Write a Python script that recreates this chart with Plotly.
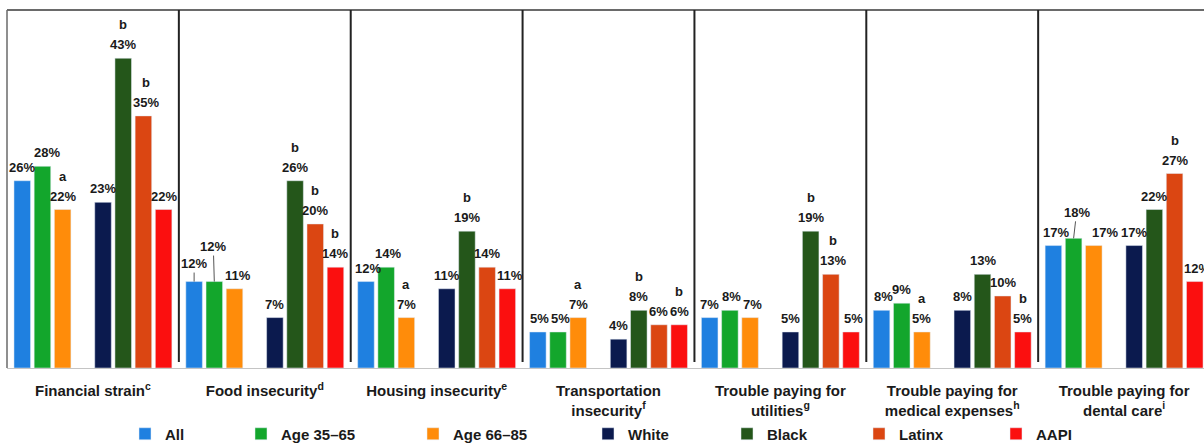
import plotly.graph_objects as go

# --- data -------------------------------------------------------------------
measures = [
    "Financial strain",
    "Food insecurity",
    "Housing insecurity",
    "Transportation insecurity",
    "Trouble paying for utilities",
    "Trouble paying for medical expenses",
    "Trouble paying for dental care",
]
measure_labels = [
    "Financial strain<sup>c</sup>",
    "Food insecurity<sup>d</sup>",
    "Housing insecurity<sup>e</sup>",
    "Transportation<br>insecurity<sup>f</sup>",
    "Trouble paying for<br>utilities<sup>g</sup>",
    "Trouble paying for<br>medical expenses<sup>h</sup>",
    "Trouble paying for<br>dental care<sup>i</sup>",
]
series_names = ["All", "Age 35\u201365", "Age 66\u201385", "White", "Black", "Latinx", "AAPI"]

all_adults = [26, 12, 12, 5, 7, 8, 17]
age_35_65 = [28, 12, 14, 5, 8, 9, 18]
age_66_85 = [22, 11, 7, 7, 7, 5, 17]
white = [23, 7, 11, 4, 5, 8, 17]
black = [43, 26, 19, 8, 19, 13, 22]
latinx = [35, 20, 14, 6, 13, 10, 27]
aapi = [22, 14, 11, 6, 5, 5, 12]

# significance markers shown above the percentages
sig_all = ["", "", "", "", "", "", ""]
sig_age_35_65 = ["", "", "", "", "", "", ""]
sig_age_66_85 = ["a", "", "a", "a", "", "a", ""]
sig_white = ["", "", "", "", "", "", ""]
sig_black = ["b", "b", "b", "b", "b", "", ""]
sig_latinx = ["b", "b", "", "", "b", "", "b"]
sig_aapi = ["", "b", "", "b", "", "b", ""]

series_values = [all_adults, age_35_65, age_66_85, white, black, latinx, aapi]
series_sig = [sig_all, sig_age_35_65, sig_age_66_85, sig_white, sig_black, sig_latinx, sig_aapi]

# --- style ------------------------------------------------------------------
series_colors = ["#1f80e0", "#13a62c", "#ff8c0a", "#0b1a4e", "#24561a", "#db4612", "#fb0f0f"]
FONT = "Liberation Sans, Arial, sans-serif"
TEXT_COLOR = "#1a1a1a"
VALUE_SIZE = 13
VALUE_SHIFT = 4
LETTER_GAP = 20

# eight slots per group; slot 3 stays empty to split age and race groups
slots = [0, 1, 2, 4, 5, 6, 7]
slot_w = 0.94 / 8
bar_w = slot_w * 0.82

# label nudges: (measure index, series index) -> (x shift px, leader length px)
label_nudge = {
    (0, 1): (5, 0), (0, 5): (3, 0),
    (1, 0): (0, 18), (1, 1): (-1, 35), (1, 2): (3, 0),
    (2, 0): (2, 0), (2, 1): (2, 0), (2, 6): (3, 0),
    (3, 0): (2, 0), (3, 1): (2, 0),
    (4, 1): (2, 0), (4, 2): (2, 0), (4, 5): (2, 0), (4, 6): (2, 0),
    (5, 0): (2, 0),
    (6, 0): (3, 0), (6, 1): (3, 26), (6, 2): (11, 0), (6, 6): (2, 0),
}

# legend text start (px) for each series, and legend row centre
legend_text_px = [165, 281, 453, 628, 767, 899, 1036]
LEGEND_Y_PX = 434

W, H = 1204, 444
ML, MR, MT, MB = 7, 0, 10, 76
plot_w = W - ML - MR
plot_h = H - MT - MB

fig = go.Figure()
legend_ids = ["legend"] + [f"legend{n}" for n in range(2, 8)]

for k, (name, vals, color) in enumerate(zip(series_names, series_values, series_colors)):
    offset = (slots[k] - 4) * slot_w + (slot_w - bar_w) / 2
    fig.add_bar(
        x=measures, y=vals, name=name, marker_color=color,
        width=bar_w, offset=offset, legend=legend_ids[k],
        hovertemplate="%{x}<br>" + name + ": %{y}%<extra></extra>",
    )

label_font = dict(family=FONT, size=VALUE_SIZE, color=TEXT_COLOR, weight="bold")
annotations = []
for k, (vals, sig) in enumerate(zip(series_values, series_sig)):
    for i, v in enumerate(vals):
        dx, lead = label_nudge.get((i, k), (0, 0))
        xpos = i + (slots[k] - 3.5) * slot_w
        common = dict(x=xpos, y=v, xref="x", yref="y", text=f"{v}%", font=label_font)
        if lead:
            annotations.append(dict(
                common, showarrow=True, arrowhead=0, arrowwidth=1,
                arrowcolor="#555555", ax=dx, ay=-lead, standoff=0,
            ))
        else:
            annotations.append(dict(
                common, showarrow=False, yanchor="bottom", xshift=dx, yshift=VALUE_SHIFT,
            ))
        if sig[i]:
            annotations.append(dict(
                x=xpos, y=v, xref="x", yref="y", text=sig[i], font=label_font,
                showarrow=False, yanchor="bottom", xshift=dx,
                yshift=VALUE_SHIFT + LETTER_GAP,
            ))

shapes = []
# top rule and left edge
shapes.append(dict(type="line", xref="paper", yref="paper", x0=0, x1=1, y0=1, y1=1,
                   line=dict(color="#6a6a6a", width=2)))
shapes.append(dict(type="line", xref="paper", yref="paper", x0=0, x1=0, y0=0, y1=1,
                   line=dict(color="#6a6a6a", width=1.5)))
# separators between measures
for i in range(len(measures) - 1):
    shapes.append(dict(type="line", xref="x", yref="paper", x0=i + 0.5, x1=i + 0.5,
                       y0=0.017, y1=1, line=dict(color="#222222", width=2)))

layout_legends = {}
for k, lid in enumerate(legend_ids):
    left_px = legend_text_px[k] - 40
    layout_legends[lid] = dict(
        orientation="h", x=(left_px - ML) / plot_w,
        y=-(LEGEND_Y_PX - (H - MB)) / plot_h,
        xanchor="left", yanchor="middle", bgcolor="rgba(0,0,0,0)", borderwidth=0,
        font=dict(family=FONT, size=15, color=TEXT_COLOR, weight="bold"),
    )

fig.update_layout(
    width=W, height=H,
    margin=dict(l=ML, r=MR, t=MT, b=MB, autoexpand=False),
    paper_bgcolor="white", plot_bgcolor="white",
    barmode="overlay", showlegend=True,
    xaxis=dict(
        type="category", range=[-0.5, 6.465], tickvals=measures, ticktext=measure_labels,
        showgrid=False, zeroline=False, ticks="", showline=True, linecolor="#c4c4c4", linewidth=1,
        tickfont=dict(family=FONT, size=15, color=TEXT_COLOR, weight="bold"),
        ticklabelstandoff=9,
        automargin=False,
    ),
    yaxis=dict(range=[0, 49.7], visible=False, showgrid=False, zeroline=False),
    annotations=annotations,
    shapes=shapes,
    **layout_legends,
)

fig.write_html("out.html")
